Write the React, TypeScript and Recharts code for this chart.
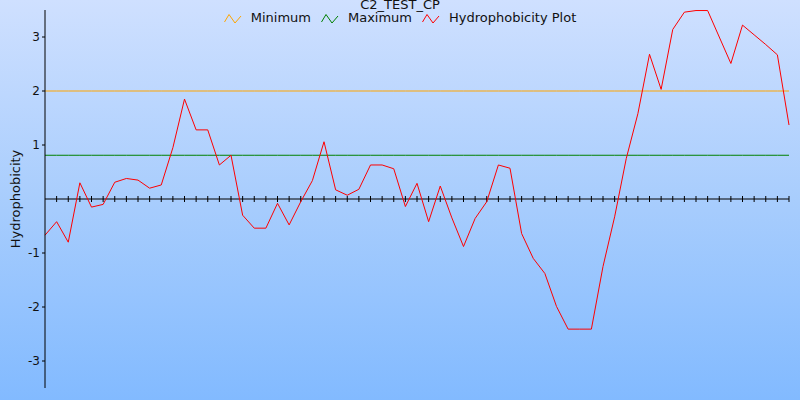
import React from 'react'
import { LineChart, Line, XAxis, YAxis, ReferenceLine, Legend } from 'recharts'

const hydrophobicity = [
  -0.67, -0.42, -0.8, 0.3, -0.15, -0.1, 0.31, 0.38, 0.35, 0.2,
  0.26, 0.95, 1.85, 1.28, 1.28, 0.63, 0.81, -0.3, -0.54, -0.54,
  -0.08, -0.48, -0.05, 0.34, 1.06, 0.17, 0.07, 0.18, 0.63, 0.63,
  0.56, -0.14, 0.29, -0.42, 0.24, -0.35, -0.88, -0.36, -0.05, 0.63,
  0.57, -0.64, -1.1, -1.38, -1.99, -2.41, -2.41, -2.41, -1.25, -0.33,
  0.75, 1.58, 2.68, 2.03, 3.14, 3.46, 3.49, 3.49, 3.0, 2.51,
  3.22, 3.04, 2.86, 2.67, 1.37,
]
const MINIMUM = 2
const MAXIMUM = 0.81
const yTicks = [-3, -2, -1, 1, 2, 3]
const seriesOrder = ['Minimum', 'Maximum', 'Hydrophobicity Plot']

const data = hydrophobicity.map((v, i) => ({
  pos: i + 1,
  minimum: MINIMUM,
  maximum: MAXIMUM,
  hydro: v,
}))

const FONT = '"DejaVu Sans", Verdana, sans-serif'

// zero axis with a tick at every residue position
function ZeroAxis(props: any) {
  const { x1, y1, x2, y2 } = props
  if (x1 == null) return null
  const n = data.length - 1
  const step = (x2 - x1) / n
  const ticks = []
  for (let i = 1; i <= n; i++) {
    const x = x1 + i * step
    ticks.push(<line key={i} x1={x} x2={x} y1={y1 - 3} y2={y1 + 3} stroke="#000" />)
  }
  return (
    <g>
      <line x1={x1} y1={y1} x2={x2} y2={y2} stroke="#000" strokeWidth={1} />
      {ticks}
    </g>
  )
}

function ZigZag({ color }: { color: string }) {
  return (
    <svg width={18} height={12} style={{ marginRight: 9, verticalAlign: 'middle' }}>
      <polyline points="0.5,9 5,1.5 11,10 17,3" fill="none" stroke={color} strokeWidth={1} />
    </svg>
  )
}

function LegendContent(props: any) {
  const items = [...(props.payload || [])].sort(
    (a: any, b: any) => seriesOrder.indexOf(a.value) - seriesOrder.indexOf(b.value)
  )
  return (
    <div style={{ textAlign: 'center', fontFamily: FONT, fontSize: 13, color: '#111', lineHeight: '14px' }}>
      {items.map((it: any, i: number) => (
        <span key={it.value} style={{ marginLeft: i === 0 ? 0 : 10, whiteSpace: 'nowrap' }}>
          <ZigZag color={it.color} />
          {it.value}
        </span>
      ))}
    </div>
  )
}

export default function App() {
  return (
    <div
      style={{
        position: 'absolute',
        left: 0,
        top: 0,
        width: 800,
        height: 400,
        overflow: 'hidden',
        background: 'linear-gradient(to bottom, #cfe0ff 0%, #a8cdfd 50%, #82baff 100%)',
      }}
    >
      <div
        style={{
          position: 'absolute',
          top: -3,
          left: 0,
          width: 800,
          textAlign: 'center',
          fontFamily: FONT,
          fontSize: 13,
          color: '#111',
        }}
      >
        C2_TEST_CP
      </div>
      <LineChart width={800} height={400} data={data} margin={{ top: 10, right: 11, bottom: 12, left: 0 }}>
        <XAxis dataKey="pos" type="number" domain={['dataMin', 'dataMax']} hide />
        <YAxis
          domain={[-3.5, 3.5]}
          ticks={yTicks}
          allowDataOverflow
          width={45}
          stroke="#000"
          tickSize={3}
          tickMargin={2}
          tick={{ fill: '#111', fontSize: 12, fontFamily: FONT }}
          label={{
            value: 'Hydrophobicity',
            angle: -90,
            position: 'insideLeft',
            offset: 15,
            style: { textAnchor: 'middle', fontFamily: FONT, fontSize: 13, fill: '#111' },
          }}
        />
        <Legend
          verticalAlign="middle"
          align="center"
          layout="horizontal"
          wrapperStyle={{ top: 11, left: 0, width: 800 }}
          content={LegendContent}
        />
        <ReferenceLine y={0} shape={ZeroAxis} ifOverflow="visible" />
        <Line name="Minimum" dataKey="minimum" stroke="#ffa500" strokeWidth={1} dot={false} isAnimationActive={false} />
        <Line name="Maximum" dataKey="maximum" stroke="#008000" strokeWidth={1} dot={false} isAnimationActive={false} />
        <Line name="Hydrophobicity Plot" dataKey="hydro" stroke="#ff0000" strokeWidth={1} dot={false} isAnimationActive={false} />
      </LineChart>
    </div>
  )
}
